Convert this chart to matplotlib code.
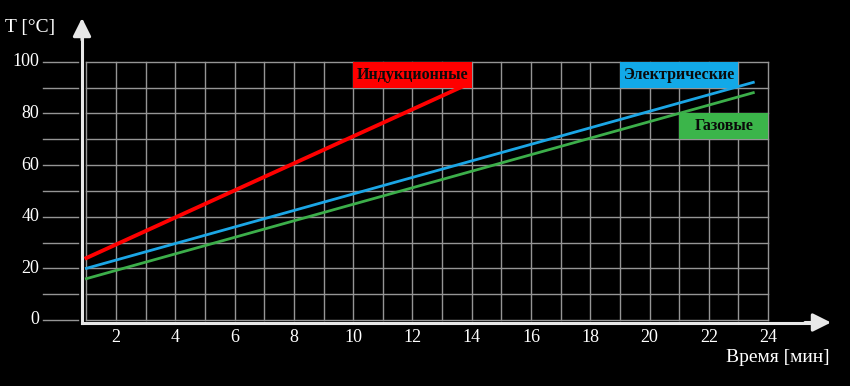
import numpy as np
import matplotlib
matplotlib.use('Agg')
import matplotlib.pyplot as plt
from matplotlib.patches import Rectangle

# data
time_ind = [1.0, 13.9]
temp_ind = [24.0, 91.5]
time_el = [1.0, 23.5]
temp_el = [20.0, 92.0]
time_gas = [1.0, 23.5]
temp_gas = [16.0, 88.0]

x_ticks = [2, 4, 6, 8, 10, 12, 14, 16, 18, 20, 22, 24]
y_ticks = [0, 20, 40, 60, 80, 100]

labels = ['Индукционные', 'Электрические', 'Газовые']
label_boxes = [(10, 90, 4, 10), (19, 90, 4, 10), (21, 70, 3, 10)]
colors = ['#ff0000', '#1ba6e6', '#3cae4a']
box_colors = ['#ff0000', '#12a9e8', '#3bb54a']

serif = ['Liberation Serif', 'DejaVu Serif']

fig = plt.figure(figsize=(8.5, 3.86), dpi=100)
fig.patch.set_facecolor('black')
ax = fig.add_axes([0, 0, 1, 1])
ax.set_facecolor('black')
ax.axis('off')

# pixel -> data mapping
px_x = 29.64
px_y = 2.583
x0_px, y0_px = 86.4, 320.0
ax.set_xlim(1 - x0_px / px_x, 1 + (850 - x0_px) / px_x)
ax.set_ylim(-(386 - y0_px) / px_y, y0_px / px_y)

grid_c = '#959595'
# vertical grid
for xv in range(1, 25):
    ax.plot([xv, xv], [0, 100], color=grid_c, lw=1.0, zorder=1)
# horizontal grid
x_left = 1 - (86.4 - 43) / px_x
x_gap = 1 - (86.4 - 78) / px_x
for yv in range(0, 101, 10):
    ax.plot([1, 24], [yv, yv], color=grid_c, lw=1.0, zorder=1)
    ax.plot([x_left, x_gap], [yv, yv], color=grid_c, lw=1.0, zorder=1)

# axes with arrows
x_axis = 1 - (86.4 - 82) / px_x
y_axis = -(322.5 - 320) / px_y
ax.plot([x_axis, x_axis], [y_axis, (320 - 30) / px_y], color='#e8e8e8', lw=2.2,
        solid_capstyle='projecting', zorder=3)
ax.plot([x_axis, 1 + (815 - 86.4) / px_x], [y_axis, y_axis], color='#e8e8e8', lw=2.2,
        solid_capstyle='projecting', zorder=3)
ax.annotate('', xy=(x_axis, (320 - 18) / px_y), xytext=(x_axis, (320 - 40) / px_y),
            arrowprops=dict(arrowstyle='-|>,head_length=1.1,head_width=0.55',
                            color='#e8e8e8', lw=2.2, shrinkA=0, shrinkB=0), zorder=4)
ax.annotate('', xy=(1 + (831 - 86.4) / px_x, y_axis), xytext=(1 + (805 - 86.4) / px_x, y_axis),
            arrowprops=dict(arrowstyle='-|>,head_length=1.1,head_width=0.55',
                            color='#e8e8e8', lw=2.2, shrinkA=0, shrinkB=0), zorder=4)

# series
ax.plot(time_ind, temp_ind, color=colors[0], lw=2.8, zorder=5)
ax.plot(time_el, temp_el, color=colors[1], lw=2.0, zorder=5)
ax.plot(time_gas, temp_gas, color=colors[2], lw=2.0, zorder=5)

# label boxes
for lab, (bx, by, bw, bh), bc in zip(labels, label_boxes, box_colors):
    ax.add_patch(Rectangle((bx, by), bw, bh, facecolor=bc, edgecolor='none', zorder=6))
    ax.text(bx + bw / 2, by + bh / 2, lab, ha='center', va='center', fontsize=11.5,
            fontweight='bold', color='#0a0a0a', family=serif, zorder=7)

# tick labels
for xt in x_ticks:
    ax.text(xt, -(337 - 320) / px_y, str(xt), ha='center', va='center',
            fontsize=13, color='white', family=serif)
for yt in y_ticks:
    ax.text(1 - (86.4 - 39) / px_x, yt, str(yt), ha='right', va='center',
            fontsize=13, color='white', family=serif)

ax.text(1 - (86.4 - 5) / px_x, (320 - 27) / px_y, 'T [°C]', ha='left', va='center',
        fontsize=14, color='white', family=serif)
ax.text(1 + (830 - 86.4) / px_x, -(358 - 320) / px_y, 'Время [мин]', ha='right', va='center',
        fontsize=14, color='white', family=serif)

fig.savefig('out.png', dpi=100, facecolor='black')
